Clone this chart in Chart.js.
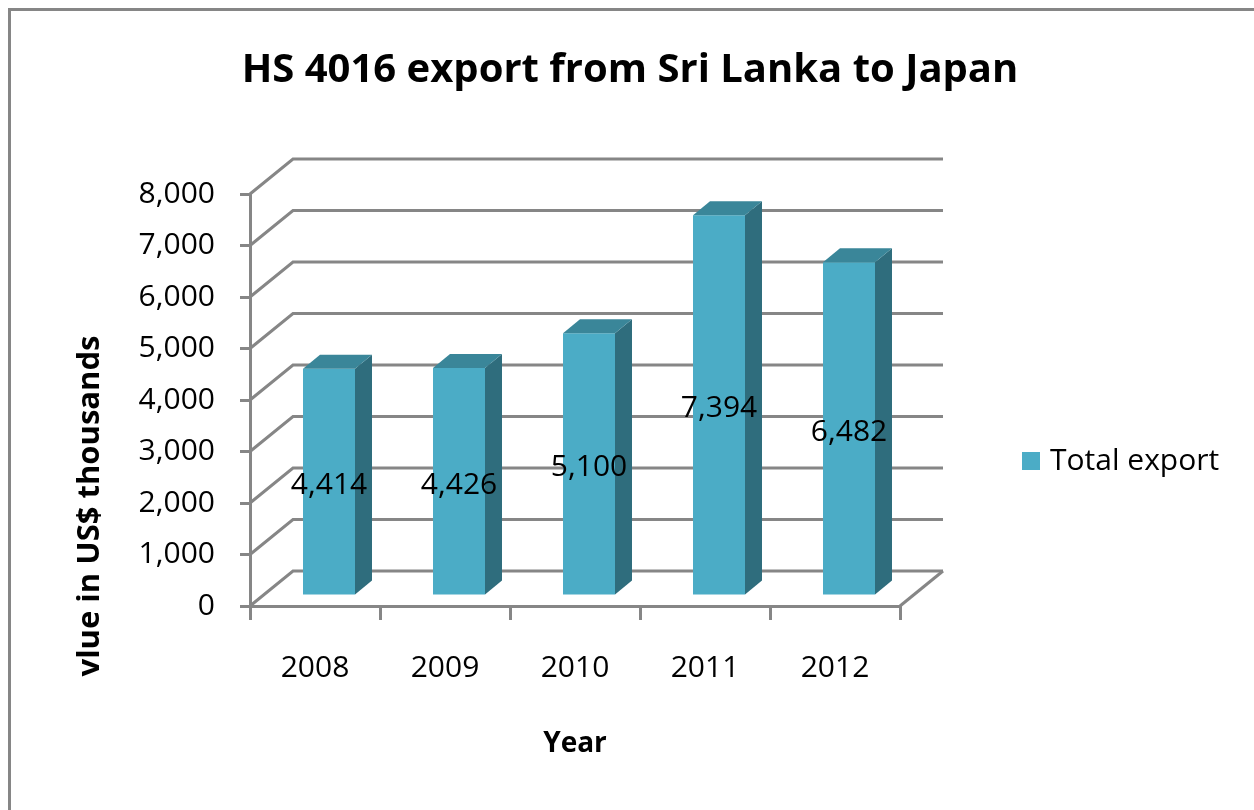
<!DOCTYPE html>
<html>
<head>
<meta charset="utf-8">
<script src="https://cdn.jsdelivr.net/npm/chart.js@4/dist/chart.umd.min.js"></script>
<style>
  html, body { margin: 0; padding: 0; background: #fff; overflow: hidden; }
  #wrap { position: relative; width: 1254px; height: 810px; overflow: hidden; }
  #frame { position: absolute; left: 8px; top: 8px; width: 1400px; height: 1000px; border: 3px solid #868686; }
  canvas { position: absolute; left: 0; top: 0; }
</style>
</head>
<body>
<div id="wrap"><div id="frame"></div><canvas id="chart" width="1254" height="810"></canvas></div>
<script>
const years = ['2008', '2009', '2010', '2011', '2012'];
const totalExport = [4414, 4426, 5100, 7394, 6482];
const yMin = 0, yMax = 8000, yStep = 1000;

const GRID = '#868686';
const FRONT = '#4BACC6', SIDE = '#2F6D7D', TOP = '#3A8699';
const WALL = { x: 43, y: -35 };       // back wall offset
const BAR_SHIFT = { x: 14, y: -10 };  // bars sit a bit into the floor
const BAR_DEPTH = { x: 17, y: -14 };

Chart.defaults.font.family = "'Open Sans', sans-serif";
Chart.defaults.color = '#000';

const fmt = v => Number(v).toLocaleString('en-US');

function poly(ctx, pts) {
  ctx.beginPath();
  ctx.moveTo(pts[0], pts[1]);
  for (let i = 2; i < pts.length; i += 2) ctx.lineTo(pts[i], pts[i + 1]);
  ctx.closePath();
  ctx.fill();
}

const fake3d = {
  id: 'fake3d',
  beforeDatasetsDraw(chart) {
    const { ctx, chartArea: a, scales: { y } } = chart;
    ctx.save();
    ctx.strokeStyle = GRID;
    ctx.lineWidth = 3;
    y.ticks.forEach(t => {
      const py = y.getPixelForValue(t.value);
      ctx.beginPath();
      ctx.moveTo(a.left, py);
      ctx.lineTo(a.left + WALL.x, py + WALL.y);
      ctx.lineTo(a.right + WALL.x, py + WALL.y);
      ctx.stroke();
    });
    ctx.beginPath();
    ctx.moveTo(a.right, a.bottom);
    ctx.lineTo(a.right + WALL.x, a.bottom + WALL.y);
    ctx.stroke();
    ctx.restore();
  },
  beforeDatasetDraw(chart) {
    chart.ctx.save();
    chart.ctx.translate(BAR_SHIFT.x, BAR_SHIFT.y);
  },
  afterDatasetDraw(chart, args) {
    const ctx = chart.ctx;
    const dx = BAR_DEPTH.x, dy = BAR_DEPTH.y;
    args.meta.data.forEach((bar, i) => {
      const { x, y, base, width } = bar.getProps(['x', 'y', 'base', 'width'], true);
      const l = x - width / 2, r = x + width / 2;
      ctx.fillStyle = SIDE;
      poly(ctx, [r, y, r + dx, y + dy, r + dx, base + dy, r, base]);
      ctx.fillStyle = TOP;
      poly(ctx, [l, y, r, y, r + dx, y + dy, l + dx, y + dy]);
      ctx.fillStyle = '#000';
      ctx.font = "30px 'Open Sans'";
      ctx.textAlign = 'center';
      ctx.textBaseline = 'middle';
      ctx.fillText(fmt(totalExport[i]), x, (y + base) / 2 + 4);
    });
    ctx.restore();
  }
};

// title, y axis title and legend
const decor = {
  id: 'decor',
  afterDraw(chart) {
    const { ctx, chartArea: a } = chart;
    ctx.save();
    ctx.fillStyle = '#000';
    ctx.textAlign = 'center';
    ctx.textBaseline = 'middle';
    ctx.font = "bold 40px 'Open Sans'";
    ctx.fillText('HS 4016 export from Sri Lanka to Japan', 630, 71);

    ctx.save();
    ctx.translate(90, 506);
    ctx.rotate(-Math.PI / 2);
    ctx.font = "bold 31px 'Open Sans'";
    ctx.fillText('vlue in US$ thousands', 0, 0);
    ctx.restore();

    const ds = chart.data.datasets[0];
    const lx = a.right + 122, ly = 461;
    ctx.fillStyle = ds.backgroundColor;
    ctx.fillRect(lx, ly - 9, 18, 18);
    ctx.fillStyle = '#000';
    ctx.textAlign = 'left';
    ctx.font = "30px 'Open Sans'";
    ctx.fillText(ds.label, lx + 28, ly);
    ctx.restore();
  }
};

new Chart(document.getElementById('chart'), {
  type: 'bar',
  plugins: [fake3d, decor],
  data: {
    labels: years,
    datasets: [
      {
        label: 'Total export',
        data: totalExport,
        backgroundColor: FRONT,
        borderWidth: 0,
        barPercentage: 0.4,
        categoryPercentage: 1,
      }
    ]
  },
  options: {
    responsive: false,
    animation: false,
    layout: {
      padding: { top: 194, right: 354, bottom: 0, left: 0 },
    },
    plugins: {
      legend: { display: false },
      title: { display: false },
      tooltip: { enabled: false },
    },
    scales: {
      x: {
        afterFit: s => { s.height = 204; },
        grid: { drawOnChartArea: false, color: GRID, lineWidth: 3, tickLength: 14 },
        border: { display: true, color: GRID, width: 3 },
        ticks: { font: { size: 30 }, padding: 30, color: '#000' },
        title: {
          display: true,
          text: 'Year',
          font: { size: 28, weight: 'bold' },
          padding: { top: 0, bottom: 49 },
        },
      },
      y: {
        min: yMin,
        max: yMax,
        afterFit: s => { s.width = 250; },
        grid: { drawOnChartArea: false, color: GRID, lineWidth: 3, tickLength: 10 },
        border: { display: true, color: GRID, width: 3 },
        ticks: { stepSize: yStep, font: { size: 30 }, padding: 25, color: '#000', callback: v => fmt(v) },
      },
    },
  },
});
</script>
</body>
</html>
